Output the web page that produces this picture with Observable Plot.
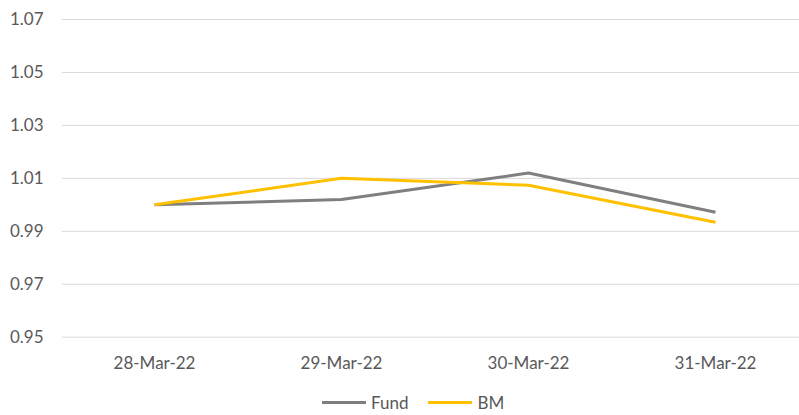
<!DOCTYPE html>
<html>
<head>
<meta charset="utf-8">
<script src="https://cdn.jsdelivr.net/npm/d3@7"></script>
<script src="https://cdn.jsdelivr.net/npm/@observablehq/plot@0.6"></script>
<style>
  html, body { margin: 0; padding: 0; background: #fff; }
  #wrap { position: relative; width: 799px; height: 415px; font-family: Lato, sans-serif; }
  #legend { position: absolute; left: 322px; top: 392px; display: flex; align-items: center; font-size: 17px; color: #595959; }
  .sw { display: inline-block; width: 44px; height: 3px; margin-right: 5px; }
  .item { display: flex; align-items: center; margin-right: 20px; }
</style>
</head>
<body>
<div id="wrap">
  <div id="chart"></div>
  <div id="legend"></div>
</div>
<script>
const dates = ["28-Mar-22", "29-Mar-22", "30-Mar-22", "31-Mar-22"];
const fund = [1.000, 1.002, 1.012, 0.9972];
const bm = [1.000, 1.010, 1.0074, 0.9934];
const yTicks = [0.95, 0.97, 0.99, 1.01, 1.03, 1.05, 1.07];
const seriesNames = ["Fund", "BM"];
const seriesColors = ["#7f7f7f", "#ffc000"];

const rows = [];
dates.forEach((d, i) => {
  rows.push({date: d, value: fund[i], series: "Fund"});
  rows.push({date: d, value: bm[i], series: "BM"});
});

const chart = Plot.plot({
  width: 799,
  height: 385,
  marginLeft: 62,
  marginRight: 0,
  marginTop: 19,
  marginBottom: 48.3,
  style: {fontFamily: "Lato, sans-serif", fontSize: "17px", color: "#595959", background: "#fff"},
  x: {type: "point", domain: dates, range: [154, 715], padding: 0, label: null},
  y: {domain: [0.95, 1.07], label: null},
  color: {domain: seriesNames, range: seriesColors},
  marks: [
    Plot.ruleY(yTicks, {stroke: "#d9d9d9", strokeWidth: 1}),
    Plot.axisY(yTicks, {tickSize: 0, tickPadding: 19, tickFormat: d3.format(".2f"), fill: "#595959", fontSize: 17}),
    Plot.axisX(dates, {tickSize: 0, tickPadding: 20, fill: "#595959", fontSize: 17}),
    Plot.line(rows, {x: "date", y: "value", z: "series", stroke: "series", strokeWidth: 3, strokeLinejoin: "round", strokeLinecap: "butt"})
  ]
});
document.getElementById("chart").appendChild(chart);

const legend = document.getElementById("legend");
seriesNames.forEach((name, i) => {
  const item = document.createElement("div");
  item.className = "item";
  const sw = document.createElement("span");
  sw.className = "sw";
  sw.style.background = seriesColors[i];
  const t = document.createElement("span");
  t.textContent = name;
  item.appendChild(sw);
  item.appendChild(t);
  legend.appendChild(item);
});
</script>
</body>
</html>
